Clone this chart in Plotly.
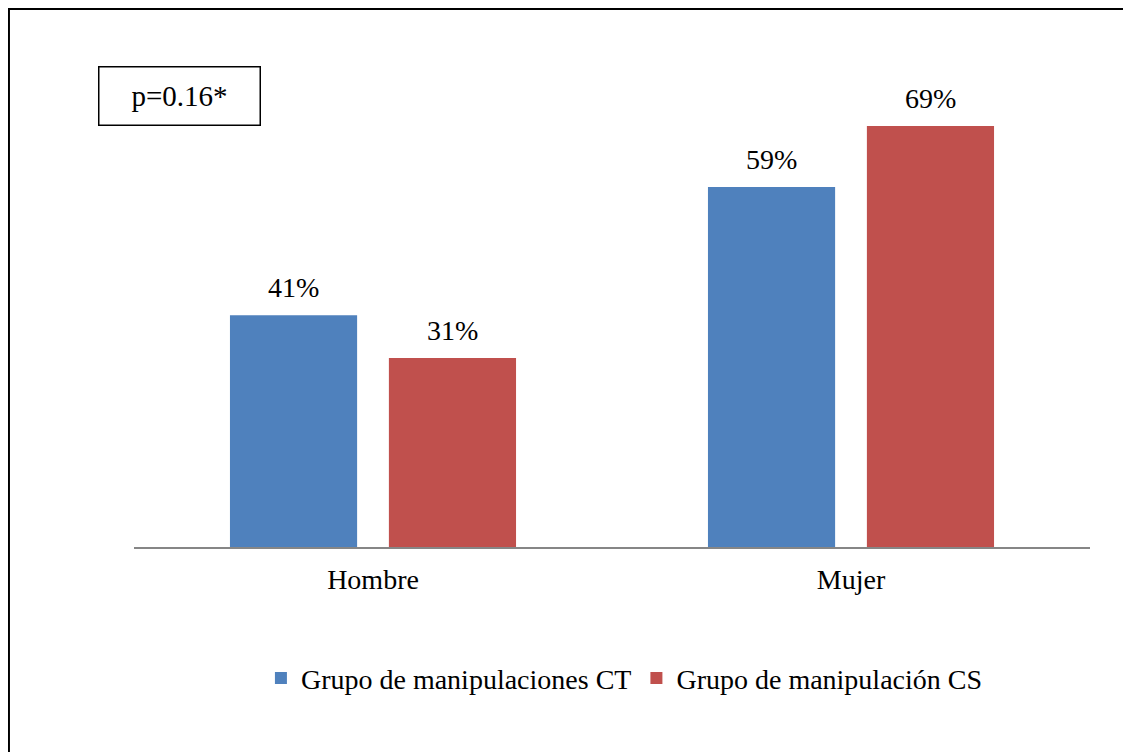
import plotly.graph_objects as go

categories = ["Hombre", "Mujer"]
series_names = ["Grupo de manipulaciones CT", "Grupo de manipulación CS"]
# bar heights as drawn in the picture
ct_values = [38, 59]
cs_values = [31, 69]
# data labels as printed on the chart
ct_labels = ["41%", "59%"]
cs_labels = ["31%", "69%"]
p_text = "p=0.16*"

colors = ["#4F81BD", "#C0504D"]
FONT = "Liberation Serif"

fig = go.Figure()
for name, vals, col in zip(series_names, [ct_values, cs_values], colors):
    fig.add_trace(go.Bar(x=categories, y=vals, name=name, marker=dict(color=col, line=dict(width=0))))

annotations = []
for vals, labels, shift in [(ct_values, ct_labels, -79.5), (cs_values, cs_labels, 79.5)]:
    for c, v, t in zip(categories, vals, labels):
        annotations.append(dict(x=c, y=v, text=t, showarrow=False, xref="x", yref="y",
                                xshift=shift, yanchor="bottom", yshift=10,
                                font=dict(family=FONT, size=28, color="black")))
annotations.append(dict(x=(179 - 134) / 956, y=(547 - 96) / 488, xref="paper", yref="paper", text=p_text,
                        showarrow=False, width=160, height=57, bordercolor="black",
                        borderwidth=1.5, borderpad=0, xanchor="center", yanchor="middle",
                        font=dict(family=FONT, size=29, color="black")))

fig.update_layout(
    width=1123, height=744,
    margin=dict(l=126, r=41, t=51, b=205),
    paper_bgcolor="white", plot_bgcolor="white",
    barmode="group", bargap=0.335, bargroupgap=0.2,
    font=dict(family=FONT, size=28, color="black"),
    showlegend=True,
    legend=dict(orientation="h", x=0.513, xanchor="center", y=-0.269, yanchor="middle",
                font=dict(family=FONT, size=28, color="black"), traceorder="normal"),
    annotations=annotations,
    shapes=[dict(type="rect", xref="paper", yref="paper", x0=-0.1308, x1=1.06,
                 y0=-0.45, y1=1.1025, line=dict(color="black", width=2), layer="above")],
)
fig.update_xaxes(showline=True, linecolor="#868686", linewidth=2, ticks="", showgrid=False,
                 tickfont=dict(family=FONT, size=28, color="black"), ticklabelstandoff=6)
fig.update_yaxes(range=[0, 80], visible=False, showgrid=False)

fig.write_html("out.html")
